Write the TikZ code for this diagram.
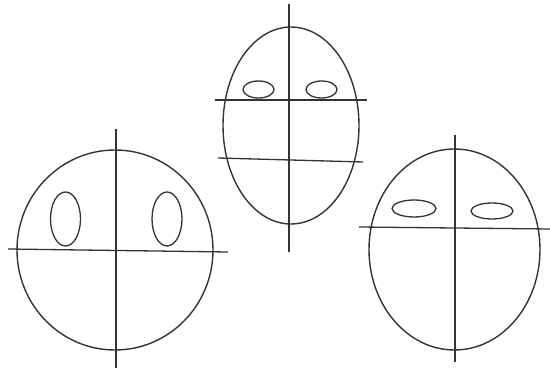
\documentclass[tikz,border=0pt]{standalone}
\usepackage{tikz}

\begin{document}
\begin{tikzpicture}[
  x=1pt, y=-1pt,
  head/.style={draw=black!80, line width=1.4pt},
  guide/.style={draw=black!80, line width=1.3pt},
  eye/.style={draw=black!80, line width=1.3pt}
]
  \useasboundingbox (0,0) rectangle (550,371);

  % round head
  \draw[head]  (115,250) ellipse [x radius=98, y radius=100];
  \draw[guide] (116,129) -- (116,368);
  \draw[guide] (8,249) -- (228,252);
  \draw[eye]   (65.5,219) ellipse [x radius=15, y radius=27];
  \draw[eye]   (167,219) ellipse [x radius=15, y radius=27];

  % long head
  \draw[head]  (291,125.5) ellipse [x radius=68, y radius=98.5];
  \draw[guide] (289,4) -- (289,252);
  \draw[guide] (215,100) -- (367,100);
  \draw[guide] (218,158) -- (363,162);
  \draw[eye]   (258.5,89.5) ellipse [x radius=15.5, y radius=8.5];
  \draw[eye]   (321.5,89.5) ellipse [x radius=15.5, y radius=8.5];

  % oval head
  \draw[head]  (454.5,249.5) ellipse [x radius=85.5, y radius=100.5];
  \draw[guide] (455,135) -- (455,362);
  \draw[guide] (359,227) -- (550,229);
  \draw[eye]   (414,208.5) ellipse [x radius=22, y radius=8.5];
  \draw[eye]   (492,211) ellipse [x radius=21, y radius=8];
\end{tikzpicture}
\end{document}
